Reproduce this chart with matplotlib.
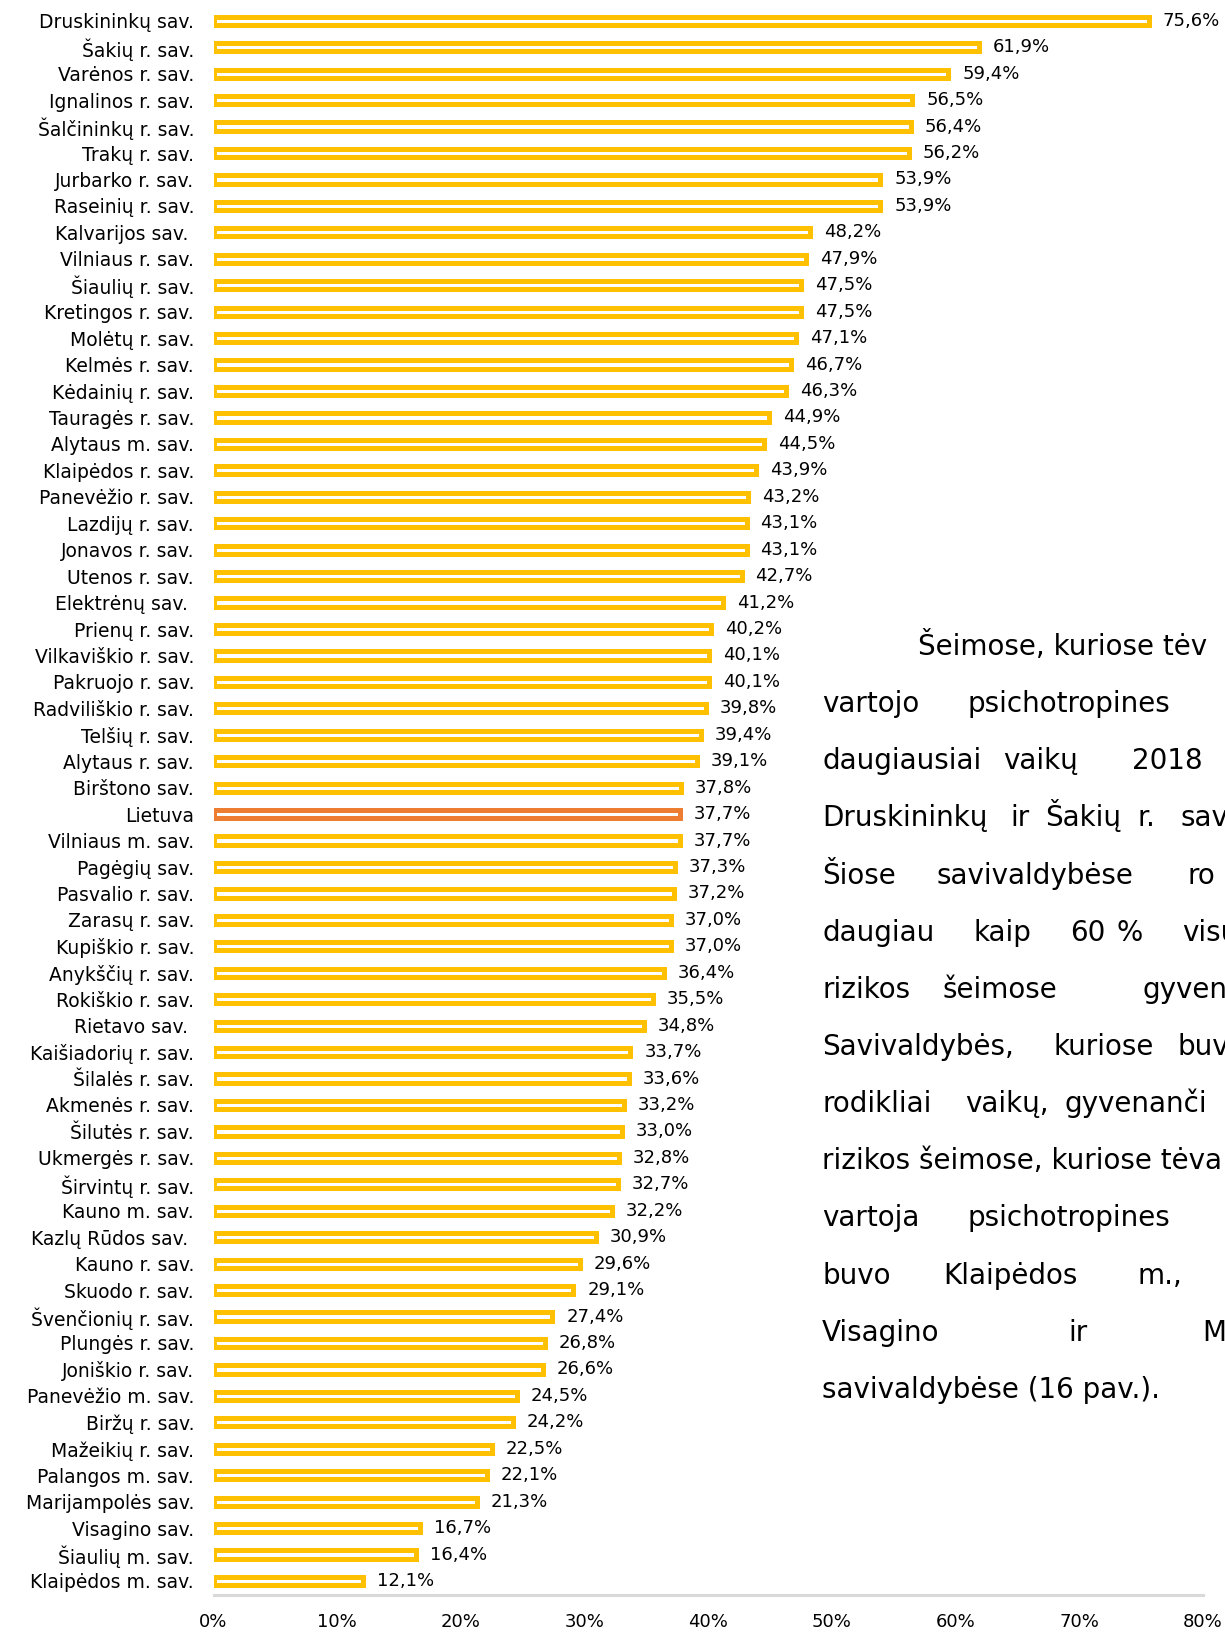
import matplotlib
matplotlib.use("Agg")
import matplotlib.pyplot as plt

# savivaldybės ir rodikliai (%)
savivaldybes = [
    "Druskininkų sav.", "Šakių r. sav.", "Varėnos r. sav.", "Ignalinos r. sav.",
    "Šalčininkų r. sav.", "Trakų r. sav.", "Jurbarko r. sav.", "Raseinių r. sav.",
    "Kalvarijos sav. ", "Vilniaus r. sav.", "Šiaulių r. sav.", "Kretingos r. sav.",
    "Molėtų r. sav.", "Kelmės r. sav.", "Kėdainių r. sav.", "Tauragės r. sav.",
    "Alytaus m. sav.", "Klaipėdos r. sav.", "Panevėžio r. sav.", "Lazdijų r. sav.",
    "Jonavos r. sav.", "Utenos r. sav.", "Elektrėnų sav. ", "Prienų r. sav.",
    "Vilkaviškio r. sav.", "Pakruojo r. sav.", "Radviliškio r. sav.", "Telšių r. sav.",
    "Alytaus r. sav.", "Birštono sav.", "Lietuva", "Vilniaus m. sav.",
    "Pagėgių sav.", "Pasvalio r. sav.", "Zarasų r. sav.", "Kupiškio r. sav.",
    "Anykščių r. sav.", "Rokiškio r. sav.", "Rietavo sav. ", "Kaišiadorių r. sav.",
    "Šilalės r. sav.", "Akmenės r. sav.", "Šilutės r. sav.", "Ukmergės r. sav.",
    "Širvintų r. sav.", "Kauno m. sav.", "Kazlų Rūdos sav. ", "Kauno r. sav.",
    "Skuodo r. sav.", "Švenčionių r. sav.", "Plungės r. sav.", "Joniškio r. sav.",
    "Panevėžio m. sav.", "Biržų r. sav.", "Mažeikių r. sav.", "Palangos m. sav.",
    "Marijampolės sav.", "Visagino sav.", "Šiaulių m. sav.", "Klaipėdos m. sav.",
]
reiksmes = [
    75.6, 61.9, 59.4, 56.5, 56.4, 56.2, 53.9, 53.9,
    48.2, 47.9, 47.5, 47.5, 47.1, 46.7, 46.3, 44.9,
    44.5, 43.9, 43.2, 43.1, 43.1, 42.7, 41.2, 40.2,
    40.1, 40.1, 39.8, 39.4, 39.1, 37.8, 37.7, 37.7,
    37.3, 37.2, 37.0, 37.0, 36.4, 35.5, 34.8, 33.7,
    33.6, 33.2, 33.0, 32.8, 32.7, 32.2, 30.9, 29.6,
    29.1, 27.4, 26.8, 26.6, 24.5, 24.2, 22.5, 22.1,
    21.3, 16.7, 16.4, 12.1,
]
x_ticks = [0, 10, 20, 30, 40, 50, 60, 70, 80]

# tekstas šalia grafiko (matoma dalis), eilutėmis
teksto_eilutes = [
    ["Šeimose, kuriose tėv"],
    ["vartojo", "psichotropines"],
    ["daugiausiai", "vaikų", "2018"],
    ["Druskininkų", "ir", "Šakių", "r.", "sav"],
    ["Šiose", "savivaldybėse", "ro"],
    ["daugiau", "kaip", "60", "%", "visų"],
    ["rizikos", "šeimose", "gyvenan"],
    ["Savivaldybės,", "kuriose", "buv"],
    ["rodikliai", "vaikų,", "gyvenanči"],
    ["rizikos šeimose, kuriose tėva"],
    ["vartoja", "psichotropines"],
    ["buvo", "Klaipėdos", "m.,"],
    ["Visagino", "ir", "M"],
    ["savivaldybėse (16 pav.)."],
]
# žodžių kairiųjų kraštų padėtys (px)
zodziu_x = [
    [918],
    [822, 968],
    [822, 1003, 1132],
    [822, 1010, 1045, 1137, 1180],
    [822, 937, 1188],
    [822, 973, 1070, 1117, 1182],
    [822, 942, 1143],
    [822, 1053, 1178],
    [822, 965, 1065],
    [822],
    [822, 968],
    [822, 943, 1137],
    [822, 1068, 1202],
    [822],
]

W, H = 1225, 1634
geltona = "#FFC000"
oranzine = "#ED7D31"

fig = plt.figure(figsize=(W / 100, H / 100), dpi=100)
ax = fig.add_axes([213.5 / W, 39 / H, (1203 - 213.5) / W, 1595 / H])

pos = list(range(len(savivaldybes)))
spalvos = [oranzine if s == "Lietuva" else geltona for s in savivaldybes]
ax.barh(pos, reiksmes, height=0.31, color="white", edgecolor=spalvos,
        linewidth=3.6, joinstyle="miter")

for i, v in enumerate(reiksmes):
    ax.annotate(f"{v:.1f}".replace(".", ",") + "%", xy=(v, i), xytext=(10, 0),
                textcoords="offset points", va="center", ha="left", fontsize=13)

ax.set_xlim(0, 80)
ax.set_ylim(59.53, -0.787)
ax.set_yticks(pos)
ax.set_yticklabels(savivaldybes, fontsize=13.5)
ax.set_xticks(x_ticks)
ax.set_xticklabels([f"{t}%" for t in x_ticks], fontsize=13)
ax.tick_params(axis="y", length=0, pad=14)
ax.tick_params(axis="x", length=0, pad=13)
for s in ["top", "right", "left"]:
    ax.spines[s].set_visible(False)
ax.spines["bottom"].set_color("#D9D9D9")
ax.spines["bottom"].set_linewidth(2.2)

for k, (zodziai, xs) in enumerate(zip(teksto_eilutes, zodziu_x)):
    yb = 655 + 57.15 * k
    for z, x in zip(zodziai, xs):
        fig.text(x / W, 1 - yb / H, z, fontsize=20, va="baseline", ha="left")

fig.savefig("out.png", dpi=100)
